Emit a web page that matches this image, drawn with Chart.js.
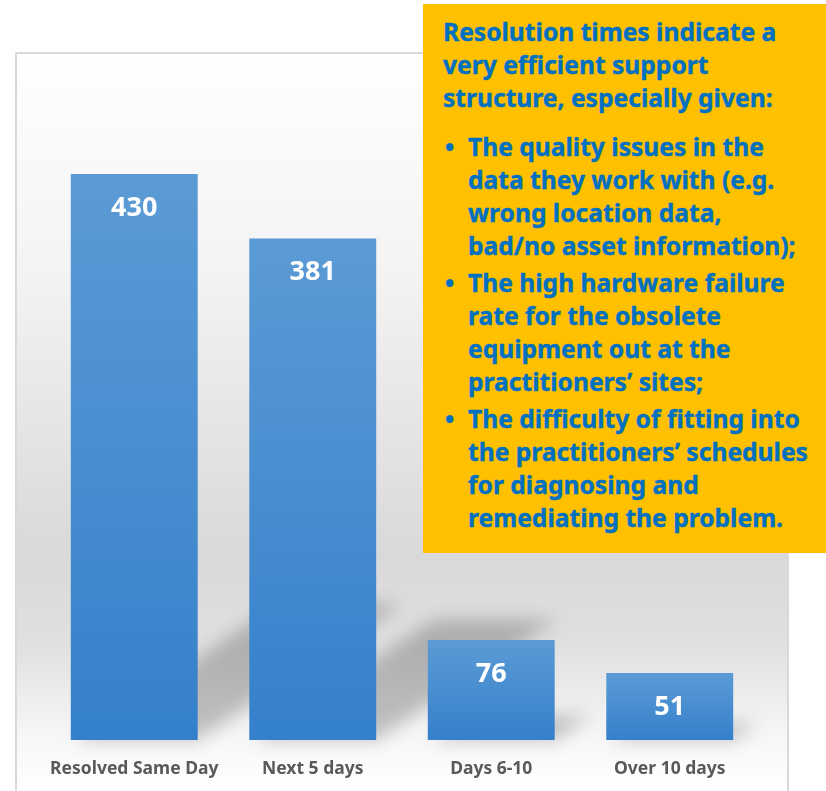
<!DOCTYPE html>
<html>
<head>
<meta charset="utf-8">
<script src="https://cdn.jsdelivr.net/npm/chart.js@4"></script>
<style>
  html, body { margin:0; padding:0; background:#ffffff; }
  #wrap { position:relative; width:826px; height:791px; overflow:hidden; }
  #c { position:absolute; left:0; top:0; }
  #callout { position:absolute; left:423px; top:4px; width:403px; height:549px; background:#FFC000;
    color:#0070C0; font-family:"Noto Sans", sans-serif; font-weight:700; font-size:24.6px; line-height:33px;
    box-sizing:border-box; padding:11px 0 0 20px; white-space:nowrap; -webkit-text-stroke:0.4px #0070C0; }
  #callout .head { margin-bottom:16px; }
  #callout ul { list-style:none; margin:0; padding:0; }
  #callout li { position:relative; padding-left:25px; margin-bottom:4px; }
  #callout li::before { content:"•"; position:absolute; left:2px; top:0; }
</style>
</head>
<body>
<div id="wrap">
  <canvas id="c" width="826" height="791"></canvas>
  <div id="callout">
    <div class="head">Resolution times indicate a<br>very efficient support<br>structure, especially given:</div>
    <ul>
      <li>The quality issues in the<br>data they work with (e.g.<br>wrong location data,<br>bad/no asset information);</li>
      <li>The high hardware failure<br>rate for the obsolete<br>equipment out at the<br>practitioners’ sites;</li>
      <li>The difficulty of fitting into<br>the practitioners’ schedules<br>for diagnosing and<br>remediating the problem.</li>
    </ul>
  </div>
</div>
<script>
const categories = ["Resolved Same Day", "Next 5 days", "Days 6-10", "Over 10 days"];
const ticketCounts = [430, 381, 76, 51];
const valueLabels = ["430", "381", "76", "51"];

const FONT = '"Noto Sans", sans-serif';

const backgroundPlugin = {
  id: 'bgPanel',
  beforeDraw(chart) {
    const ctx = chart.ctx;
    const x0 = 16, y0 = 53, x1 = 788, y1 = 800;
    const g = ctx.createLinearGradient(0, y0, 0, 791);
    g.addColorStop(0, '#ffffff');
    g.addColorStop(0.30, '#f3f3f3');
    g.addColorStop(0.68, '#d9d9d9');
    g.addColorStop(0.80, '#e0e0e0');
    g.addColorStop(0.93, '#f7f7f7');
    g.addColorStop(1, '#ffffff');
    ctx.save();
    ctx.fillStyle = g;
    ctx.fillRect(x0, y0, x1 - x0, y1 - y0);
    ctx.strokeStyle = '#d9d9d9';
    ctx.lineWidth = 2;
    ctx.beginPath();
    ctx.moveTo(x0, y1); ctx.lineTo(x0, y0); ctx.lineTo(x1, y0); ctx.lineTo(x1, y1);
    ctx.stroke();
    ctx.restore();
  }
};

const shadowPlugin = {
  id: 'barShadow',
  beforeDatasetsDraw(chart) {
    const ctx = chart.ctx;
    const meta = chart.getDatasetMeta(0);
    ctx.save();
    ctx.filter = 'blur(9px)';
    ctx.fillStyle = 'rgba(0,0,0,0.22)';
    meta.data.forEach(bar => {
      const half = bar.width / 2;
      const L = bar.x - half, R = bar.x + half;
      const base = bar.base, h = base - bar.y;
      const dx = h * 0.36, dy = h * 0.24;
      ctx.beginPath();
      ctx.moveTo(L + 4, base);
      ctx.lineTo(R, base);
      ctx.lineTo(R + dx, base - dy);
      ctx.lineTo(L + dx + 4, base - dy);
      ctx.closePath();
      ctx.fill();
    });
    ctx.restore();
  }
};

const valueLabelPlugin = {
  id: 'valueLabels',
  afterDatasetsDraw(chart) {
    const ctx = chart.ctx;
    const meta = chart.getDatasetMeta(0);
    ctx.save();
    ctx.fillStyle = '#ffffff';
    ctx.font = '700 27px ' + FONT;
    ctx.textAlign = 'center';
    ctx.textBaseline = 'middle';
    meta.data.forEach((bar, i) => {
      ctx.fillText(valueLabels[i], bar.x, bar.y + 34);
    });
    ctx.restore();
  }
};

new Chart(document.getElementById('c'), {
  type: 'bar',
  data: {
    labels: categories,
    datasets: [{
      data: ticketCounts,
      barPercentage: 0.711,
      categoryPercentage: 1,
      backgroundColor(context) {
        const chart = context.chart;
        const ys = chart.scales && chart.scales.y;
        if (!ys || context.raw === undefined) return '#4a90d2';
        const top = ys.getPixelForValue(context.raw);
        const bottom = ys.getPixelForValue(0);
        if (!isFinite(top) || !isFinite(bottom) || top === bottom) return '#4a90d2';
        const g = chart.ctx.createLinearGradient(0, top, 0, bottom);
        g.addColorStop(0, '#5b9bd5');
        g.addColorStop(1, '#3580cb');
        return g;
      },
      borderWidth: 0
    }]
  },
  options: {
    responsive: false,
    animation: false,
    events: [],
    layout: { padding: { left: 45, right: 67, top: 82, bottom: 11 } },
    plugins: { legend: { display: false }, tooltip: { enabled: false }, title: { display: false } },
    scales: {
      x: {
        grid: { display: false },
        border: { display: false },
        ticks: { color: '#595959', font: { family: FONT, weight: '700', size: 17.5 }, padding: 11, maxRotation: 0, autoSkip: false },
        afterFit(scale) { scale.height = 40; }
      },
      y: { display: false, min: 0, max: 500 }
    }
  },
  plugins: [backgroundPlugin, shadowPlugin, valueLabelPlugin]
});
</script>
</body>
</html>
